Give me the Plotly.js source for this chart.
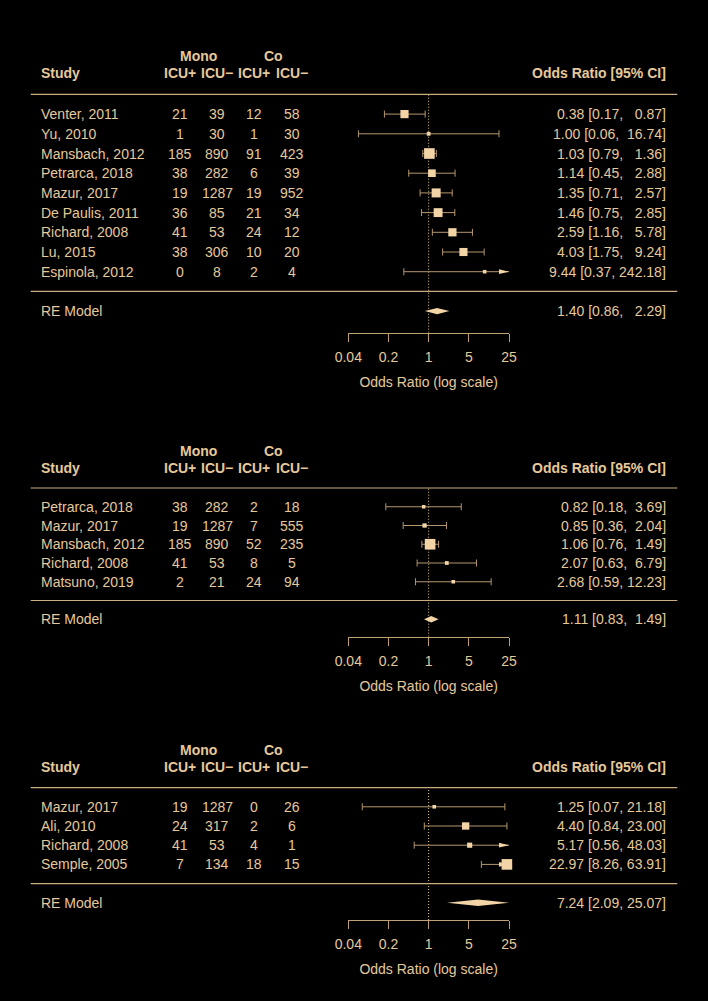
<!DOCTYPE html>
<html><head><meta charset="utf-8">
<script src="https://cdn.plot.ly/plotly-3.0.1.min.js"></script>
<style>html,body{margin:0;padding:0;background:#000;}</style>
</head><body><div id="chart" style="width:708px;height:1001px;"></div>
<script>
// ================= DATA =================
const tickVals = [0.04, 0.2, 1, 5, 25];
const tickLabels = ["0.04", "0.2", "1", "5", "25"];
const axisLimits = [0.04, 25];

// Panel 1
const studies1 = ["Venter, 2011", "Yu, 2010", "Mansbach, 2012", "Petrarca, 2018", "Mazur, 2017", "De Paulis, 2011", "Richard, 2008", "Lu, 2015", "Espinola, 2012"];
const monoPos1 = [21, 1, 185, 38, 19, 36, 41, 38, 0];
const monoNeg1 = [39, 30, 890, 282, 1287, 85, 53, 306, 8];
const coPos1 = [12, 1, 91, 6, 19, 21, 24, 10, 2];
const coNeg1 = [58, 30, 423, 39, 952, 34, 12, 20, 4];
const or1 = [0.38, 1.00, 1.03, 1.14, 1.35, 1.46, 2.59, 4.03, 9.44];
const lo1 = [0.17, 0.06, 0.79, 0.45, 0.71, 0.75, 1.16, 1.75, 0.37];
const hi1 = [0.87, 16.74, 1.36, 2.88, 2.57, 2.85, 5.78, 9.24, 242.18];
const re1 = [1.40, 0.86, 2.29];

// Panel 2
const studies2 = ["Petrarca, 2018", "Mazur, 2017", "Mansbach, 2012", "Richard, 2008", "Matsuno, 2019"];
const monoPos2 = [38, 19, 185, 41, 2];
const monoNeg2 = [282, 1287, 890, 53, 21];
const coPos2 = [2, 7, 52, 8, 24];
const coNeg2 = [18, 555, 235, 5, 94];
const or2 = [0.82, 0.85, 1.06, 2.07, 2.68];
const lo2 = [0.18, 0.36, 0.76, 0.63, 0.59];
const hi2 = [3.69, 2.04, 1.49, 6.79, 12.23];
const re2 = [1.11, 0.83, 1.49];

// Panel 3
const studies3 = ["Mazur, 2017", "Ali, 2010", "Richard, 2008", "Semple, 2005"];
const monoPos3 = [19, 24, 41, 7];
const monoNeg3 = [1287, 317, 53, 134];
const coPos3 = [0, 2, 4, 18];
const coNeg3 = [26, 6, 1, 15];
const or3 = [1.25, 4.40, 5.17, 22.97];
const lo3 = [0.07, 0.84, 0.56, 8.26];
const hi3 = [21.18, 23.00, 48.03, 63.91];
const re3 = [7.24, 2.09, 25.07];

// ================= STYLE / LAYOUT =================
const W = 708, H = 1001;
const FONT = '"Liberation Sans", Arial, Helvetica, sans-serif';
const TXT = '#E6C99B', MARK = '#F2D4A6', RULE = '#CBAC80', CIL = '#B4976E', AXC = '#BFA074';
const FS = 14;
const colX = [180, 217.3, 254.2, 292];
const monoX = 198.6, coX = 273;
const studyX = 39.3, ciX = 668.3, ruleX0 = 30.7, ruleX1 = 677.3;
const axPx0 = 348.3, axPx1 = 509;
const geom = [
  {sep: 291.4, step: 19.7, axis: 332.7},
  {sep: 600.5, step: 18.75, axis: 636.7},
  {sep: 883.6, step: 19.2, axis: 920}
];
const pxPerDec = (axPx1 - axPx0) / (Math.log10(axisLimits[1]) - Math.log10(axisLimits[0]));

const panels = [
  {studies: studies1, mp: monoPos1, mn: monoNeg1, cp: coPos1, cn: coNeg1, est: or1, lo: lo1, hi: hi1, re: re1},
  {studies: studies2, mp: monoPos2, mn: monoNeg2, cp: coPos2, cn: coNeg2, est: or2, lo: lo2, hi: hi2, re: re2},
  {studies: studies3, mp: monoPos3, mn: monoNeg3, cp: coPos3, cn: coNeg3, est: or3, lo: lo3, hi: hi3, re: re3}
];

function pad(v, w) { let s = v.toFixed(2); while (s.length < w) s = '\u00a0' + s; return s; }

function tau2From(lo, hi, reLo, reHi) {
  const z = 3.919928;
  const vi = lo.map((l, i) => Math.pow((Math.log(hi[i]) - Math.log(l)) / z, 2));
  const target = 1 / Math.pow((Math.log(reHi) - Math.log(reLo)) / z, 2);
  const S = t => vi.reduce((a, v) => a + 1 / (v + t), 0);
  if (S(0) <= target) return {vi, t2: 0};
  let a = 0, b = 20;
  for (let it = 0; it < 100; it++) { const m = (a + b) / 2; if (S(m) > target) a = m; else b = m; }
  return {vi, t2: (a + b) / 2};
}

const traces = [];
const annotations = [];
const shapes = [];
const layout = {
  width: W, height: H,
  margin: {l: 0, r: 0, t: 0, b: 0, pad: 0},
  paper_bgcolor: '#000000', plot_bgcolor: 'rgba(0,0,0,0)',
  showlegend: false, hovermode: false,
  font: {family: FONT, size: FS, color: TXT}
};

panels.forEach((p, j) => {
  const g = geom[j];
  const k = p.studies.length;
  const xa = j === 0 ? 'x' : 'x' + (j + 1);
  const ya = j === 0 ? 'y' : 'y' + (j + 1);
  const xKey = j === 0 ? 'xaxis' : 'xaxis' + (j + 1);
  const yKey = j === 0 ? 'yaxis' : 'yaxis' + (j + 1);
  const axisRow = (g.sep - g.axis) / g.step;
  const topRow = k + 3.6;
  const rows = p.studies.map((_, i) => k - i);

  layout[xKey] = {
    type: 'log', domain: [axPx0 / W, axPx1 / W],
    range: [Math.log10(axisLimits[0]), Math.log10(axisLimits[1])],
    anchor: ya, showgrid: false, zeroline: false,
    showline: true, linecolor: AXC, linewidth: 1,
    ticks: 'outside', ticklen: 8, tickwidth: 1, tickcolor: AXC,
    tickmode: 'array', tickvals: tickVals, ticktext: tickLabels,
    tickfont: {family: FONT, size: FS, color: TXT},
    ticklabelstandoff: 3,
    title: {text: 'Odds Ratio (log scale)', font: {family: FONT, size: FS, color: TXT}, standoff: 13},
    fixedrange: true
  };
  layout[yKey] = {
    domain: [1 - g.axis / H, 1 - (g.sep - topRow * g.step) / H],
    range: [axisRow, topRow], anchor: xa, visible: false, fixedrange: true
  };

  // reference dotted line at OR = 1
  traces.push({x: [1, 1], y: [axisRow, k + 1], xaxis: xa, yaxis: ya, mode: 'lines',
    line: {color: TXT, width: 1, dash: '1px,2px'}, hoverinfo: 'skip'});

  // CI lines, caps and arrows
  const lx = [], ly = [], cx = [], cy = [], ax = [], ay = [];
  const aLen = 10, aHalf = 2.4 / g.step;
  p.est.forEach((e, i) => {
    const r = rows[i];
    const l = Math.max(p.lo[i], axisLimits[0]);
    const h = Math.min(p.hi[i], axisLimits[1]);
    lx.push(l, h, null); ly.push(r, r, null);
    if (p.lo[i] >= axisLimits[0]) { cx.push(p.lo[i]); cy.push(r); }
    else {
      const b = Math.pow(10, Math.log10(axisLimits[0]) + aLen / pxPerDec);
      ax.push(axisLimits[0], b, b, axisLimits[0], null); ay.push(r, r + aHalf, r - aHalf, r, null);
    }
    if (p.hi[i] <= axisLimits[1]) { cx.push(p.hi[i]); cy.push(r); }
    else {
      const b = Math.pow(10, Math.log10(axisLimits[1]) - aLen / pxPerDec);
      ax.push(axisLimits[1], b, b, axisLimits[1], null); ay.push(r, r + aHalf, r - aHalf, r, null);
    }
  });
  traces.push({x: lx, y: ly, xaxis: xa, yaxis: ya, mode: 'lines', line: {color: CIL, width: 1}, hoverinfo: 'skip'});
  traces.push({x: cx, y: cy, xaxis: xa, yaxis: ya, mode: 'markers', cliponaxis: false,
    marker: {symbol: 'line-ns', size: 5, opacity: 1, color: CIL, line: {color: CIL, width: 1}}, hoverinfo: 'skip'});
  if (ax.length) {
    traces.push({x: ax, y: ay, xaxis: xa, yaxis: ya, mode: 'lines', fill: 'toself', fillcolor: MARK,
      line: {width: 0, color: MARK}, hoverinfo: 'skip'});
  }

  // square sizes from random-effects weights
  const tt = tau2From(p.lo, p.hi, p.re[1], p.re[2]);
  const wi = tt.vi.map(v => 1 / (v + tt.t2));
  const wmin = Math.min(...wi), wmax = Math.max(...wi);
  const sizes = wi.map(w => 7.1 * (0.5 + (w - wmin) / (wmax - wmin)));
  traces.push({x: p.est, y: rows, xaxis: xa, yaxis: ya, mode: 'markers', cliponaxis: false,
    marker: {symbol: 'square', size: sizes, opacity: 1, color: MARK, line: {width: 0}}, hoverinfo: 'skip'});

  // summary diamond
  const dh = 3.2 / g.step;
  traces.push({x: [p.re[1], p.re[0], p.re[2], p.re[0], p.re[1]], y: [-1, -1 + dh, -1, -1 - dh, -1],
    xaxis: xa, yaxis: ya, mode: 'lines', fill: 'toself', fillcolor: MARK,
    line: {width: 0, color: MARK}, hoverinfo: 'skip'});

  // horizontal rules
  [k + 1, 0].forEach(r => shapes.push({type: 'line', xref: 'paper', yref: ya,
    x0: ruleX0 / W, x1: ruleX1 / W, y0: r, y1: r, line: {color: RULE, width: 1.2}}));

  // texts
  const A = (text, px, row, anchor, bold) => annotations.push({
    text: bold ? '<b>' + text + '</b>' : text, x: px / W, xref: 'paper', y: row, yref: ya,
    xanchor: anchor, yanchor: 'middle', showarrow: false,
    font: {family: FONT, size: FS, color: TXT}
  });
  const hRow = k + 2.07, mRow = k + 2.95;
  A('Study', studyX, hRow, 'left', true);
  A('Mono', monoX, mRow, 'center', true);
  A('Co', coX, mRow, 'center', true);
  ['ICU+', 'ICU\u2212', 'ICU+', 'ICU\u2212'].forEach((t, c) => A(t, colX[c], hRow, 'center', true));
  A('Odds Ratio [95% CI]', ciX, hRow, 'right', true);

  const allE = p.est.concat([p.re[0]]), allL = p.lo.concat([p.re[1]]), allH = p.hi.concat([p.re[2]]);
  const wE = Math.max(...allE.map(v => v.toFixed(2).length));
  const wL = Math.max(...allL.map(v => v.toFixed(2).length));
  const wH = Math.max(...allH.map(v => v.toFixed(2).length));
  const ciStr = (e, l, h) => pad(e, wE) + '\u00a0[' + pad(l, wL) + ',\u00a0' + pad(h, wH) + ']';

  p.studies.forEach((s, i) => {
    const r = rows[i];
    A(s, studyX, r, 'left', false);
    [p.mp[i], p.mn[i], p.cp[i], p.cn[i]].forEach((v, c) => A(String(v), colX[c], r, 'center', false));
    A(ciStr(p.est[i], p.lo[i], p.hi[i]), ciX, r, 'right', false);
  });
  A('RE Model', studyX, -1, 'left', false);
  A(ciStr(p.re[0], p.re[1], p.re[2]), ciX, -1, 'right', false);
});

layout.annotations = annotations;
layout.shapes = shapes;

Plotly.newPlot('chart', traces, layout, {staticPlot: true, displayModeBar: false});
</script>
</body></html>
